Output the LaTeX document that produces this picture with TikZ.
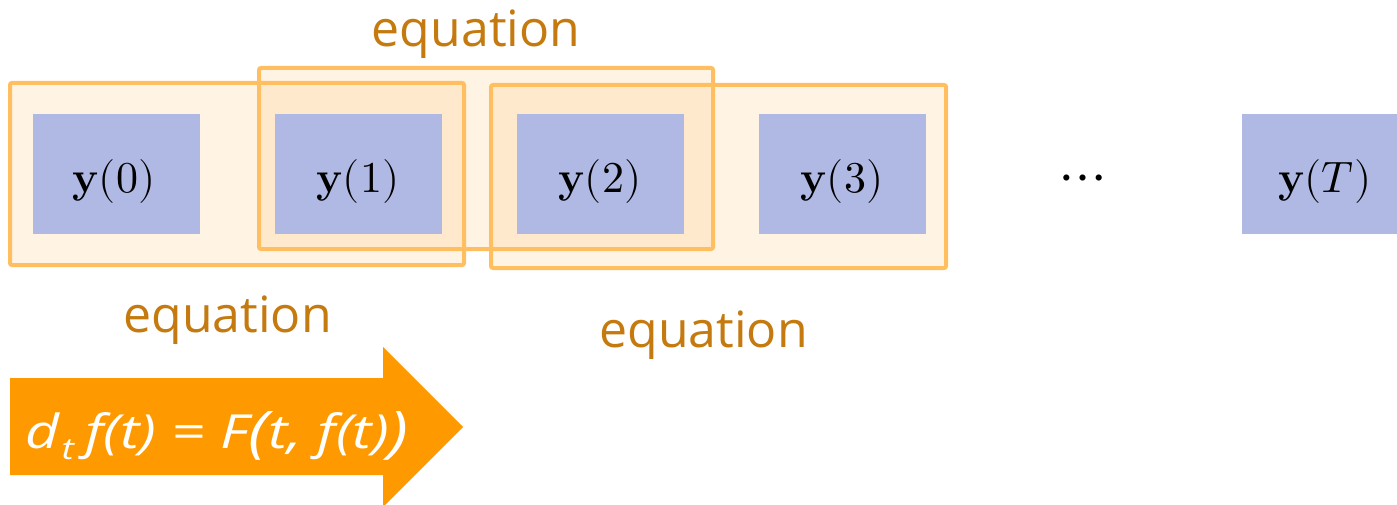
\documentclass[tikz,border=0pt]{standalone}
\usepackage{fontspec}
\usepackage{unicode-math}
\setmathfont{Latin Modern Math}
\newfontfamily\lblfont{Open Sans}
\newfontfamily\eqfont{Open Sans}
\definecolor{boxblue}{RGB}{175,185,227}
\definecolor{frameline}{RGB}{255,190,96}
\definecolor{framefill}{RGB}{255,175,68}
\definecolor{lblcol}{RGB}{196,122,14}
\definecolor{arrowor}{RGB}{255,153,0}
\newcommand{\yv}{\textbf{y}}
\begin{document}
\begin{tikzpicture}[x=1pt,y=-1pt,
  frame/.style={fill=framefill,fill opacity=0.15,draw=none},
  frameedge/.style={draw=frameline,line width=4pt,rounded corners=2pt},
  ybox/.style={fill=boxblue,minimum width=167pt,minimum height=120pt,inner sep=0pt},
  ylabel/.style={anchor=base,inner sep=0pt,font=\fontsize{44}{48}\selectfont},
  eqlabel/.style={anchor=base,inner sep=0pt,text=lblcol,font=\lblfont\fontsize{50}{56}\selectfont}]
\useasboundingbox (0,0) rectangle (1397,505);
% frames
\fill[frame] (10,83) rectangle (464,265);
\fill[frame] (259,68) rectangle (713,249);
\fill[frame] (491,85) rectangle (946,268);
\draw[frameedge] (10,83) rectangle (464,265);
\draw[frameedge] (259,68) rectangle (713,249);
\draw[frameedge] (491,85) rectangle (946,268);
% boxes
\node[ybox] (b0) at (116.5,174) {};
\node[ybox] (b1) at (358,174) {};
\node[ybox] (b2) at (600,174) {};
\node[ybox] (b3) at (842,174) {};
\fill[boxblue] (1242,114) rectangle (1397,234);
\node[ylabel] (y0) at (114,193) {\yv$(0)$};
\node[ylabel] (y1) at (358,193) {\yv$(1)$};
\node[ylabel] (y2) at (600,193) {\yv$(2)$};
\node[ylabel] (y3) at (842,193) {\yv$(3)$};
\node[ylabel] (yT) at (1325,193) {\yv$(T)$};
\node[ylabel,font=\fontsize{58}{60}\selectfont] (dots) at (1083,193) {$\cdots$};
% labels
\node[eqlabel] (e1) at (476,47) {equation};
\node[eqlabel] (e2) at (227.5,332) {equation};
\node[eqlabel] (e3) at (703.5,347) {equation};
% arrow
\fill[arrowor] (10,378) -- (383,378) -- (383,347) -- (463,427) -- (383,507) -- (383,475) -- (10,475) -- cycle;
\node[anchor=base west,inner sep=0pt,text=white,font=\eqfont\itshape\fontsize{47}{50}\selectfont] (ode) at (25,448)
  {\scalebox{1.25}[1]{d\hspace{2pt}\raisebox{-11pt}{\fontsize{30}{30}\selectfont t}\hspace{9pt}f(t) = F\raisebox{-3pt}{\fontsize{56}{58}\selectfont(}t, f(t)\raisebox{-3pt}{\fontsize{56}{58}\selectfont)}}};
\end{tikzpicture}
\end{document}
